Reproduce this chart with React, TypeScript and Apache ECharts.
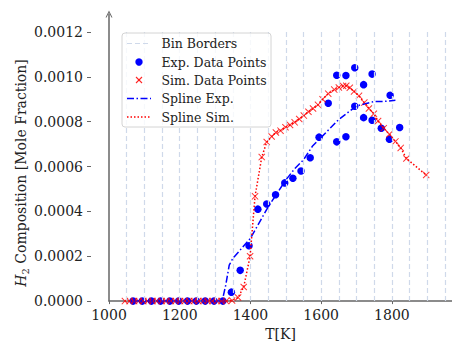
import React, { useEffect, useRef } from "react";
import * as echarts from "echarts";

// ---- data ----
const binBorders = [1050, 1100, 1150, 1200, 1250, 1300, 1350, 1400, 1450, 1500, 1550, 1600, 1650, 1700, 1750, 1800, 1850, 1900, 1950];
const binTop = 0.0012;

const expT = [1068, 1094, 1120, 1146, 1172, 1197, 1222, 1247, 1272, 1297, 1322, 1346, 1371, 1396, 1421, 1446, 1471, 1497, 1520, 1543, 1569, 1594, 1620, 1644, 1644, 1670, 1670, 1695, 1695, 1720, 1720, 1744, 1744, 1770, 1795, 1793, 1822];
const expV = [0, 0, 0, 0, 0, 0, 0, 0, 0, 0, 0, 0.00004, 0.000137, 0.000247, 0.00041, 0.000433, 0.000474, 0.000527, 0.000548, 0.00058, 0.000639, 0.000731, 0.000882, 0.001007, 0.00071, 0.001006, 0.000733, 0.00104, 0.000869, 0.000965, 0.000818, 0.001012, 0.000806, 0.000771, 0.000918, 0.000722, 0.000774];

const simT = [1045, 1058, 1071, 1084, 1097, 1110, 1123, 1136, 1149, 1162, 1175, 1188, 1201, 1214, 1227, 1240, 1253, 1266, 1279, 1292, 1305, 1318, 1331, 1348, 1365, 1381, 1399, 1413, 1432, 1446, 1460, 1472, 1485, 1499, 1512, 1525, 1538, 1551, 1564, 1577, 1591, 1604, 1620, 1637, 1650, 1662, 1671, 1681, 1693, 1707, 1722, 1735, 1749, 1761, 1777, 1793, 1810, 1825, 1841, 1897];
const simV = [0, 0, 0, 0, 0, 0, 0, 0, 0, 0, 0, 0, 0, 0, 0, 0, 0, 0, 0, 0, 0, 0, 0, 0.000003, 0.000016, 0.000063, 0.0002, 0.000467, 0.000642, 0.000709, 0.000734, 0.000752, 0.00076, 0.000775, 0.000785, 0.000797, 0.000812, 0.000827, 0.000844, 0.000859, 0.000875, 0.0009, 0.000925, 0.000943, 0.000952, 0.000959, 0.00096, 0.000951, 0.000935, 0.000915, 0.000885, 0.000859, 0.000835, 0.000803, 0.000771, 0.000744, 0.000712, 0.000683, 0.000636, 0.000562];

const splineExpT = [1068, 1320, 1330, 1340, 1350, 1375, 1400, 1425, 1450, 1475, 1500, 1525, 1550, 1575, 1600, 1625, 1650, 1675, 1700, 1725, 1750, 1775, 1810];
const splineExpV = [0, 0, 0.00007, 0.00016, 0.00019, 0.000235, 0.00028, 0.00035, 0.00042, 0.00048, 0.00054, 0.00059, 0.00063, 0.00069, 0.00073, 0.00077, 0.00081, 0.00084, 0.00087, 0.00088, 0.00089, 0.00089, 0.000895];

const xTicks = [1000, 1200, 1400, 1600, 1800];
const yTicks = [0, 0.0002, 0.0004, 0.0006, 0.0008, 0.001, 0.0012];

const legendLabels = ["Bin Borders", "Exp. Data Points", "Sim. Data Points", "Spline Exp.", "Spline Sim."];

const BLUE = "#0000ff";
const RED = "#ff0000";
const BIN = "#cfd9ea";
const AXIS = "#666666";
const FONT = "DejaVu Serif";
const XPATH = "path://M0,1 L1,0 L5,4 L9,0 L10,1 L6,5 L10,9 L9,10 L5,6 L1,10 L0,9 L4,5 Z";
const CHEVRON = "path://M0,6 L3,0 L6,6 L5.1,6 L3,1.8 L0.9,6 Z";

const zip = (a: number[], b: number[]) => a.map((v, i) => [v, b[i]]);

export default function App() {
  const ref = useRef<HTMLDivElement>(null);
  useEffect(() => {
    document.body.style.margin = "0";
    if (!ref.current) return;
    const chart = echarts.init(ref.current, null, { renderer: "svg" });
    const rowY = [43.5, 62, 80, 98.5, 117];
    const option: any = {
      animation: false,
      backgroundColor: "#ffffff",
      grid: { left: 109, right: 0, top: 14, bottom: 40.5, containLabel: false },
      xAxis: {
        type: "value",
        min: 1000,
        max: 1970,
        axisLine: { show: true, onZero: false, lineStyle: { color: AXIS, width: 1.5 } },
        axisTick: { show: true, length: 3, customValues: xTicks, lineStyle: { color: AXIS } },
        axisLabel: {
          customValues: xTicks,
          fontFamily: FONT,
          fontSize: 14,
          color: "#222",
          margin: 7,
          formatter: (v: number) => String(v),
        },
        splitLine: { show: false },
        name: "T[K]",
        nameLocation: "middle",
        nameGap: 25,
        nameTextStyle: { fontFamily: FONT, fontSize: 14, color: "#222" },
      },
      yAxis: [
        {
          type: "value",
          min: 0,
          max: 0.00128,
          position: "left",
          offset: 18,
          axisLine: { show: false },
          axisTick: { show: true, length: 4, customValues: yTicks, lineStyle: { color: AXIS } },
          axisLabel: {
            customValues: yTicks,
            fontFamily: FONT,
            fontSize: 14,
            color: "#222",
            margin: 8,
            formatter: (v: number) => v.toFixed(4),
          },
          splitLine: { show: false },
        },
        {
          type: "value",
          min: 0,
          max: 0.00128,
          position: "left",
          offset: 0,
          axisLine: {
            show: true,
            onZero: false,
            symbol: ["none", CHEVRON],
            symbolSize: [7, 7],
            lineStyle: { color: AXIS, width: 1.5 },
          },
          axisTick: { show: false },
          axisLabel: { show: false },
          splitLine: { show: false },
        },
      ],
      series: [
        {
          name: "Bin Borders",
          type: "line",
          data: [],
          silent: true,
          markLine: {
            silent: true,
            symbol: ["none", "none"],
            label: { show: false },
            lineStyle: { color: BIN, width: 1.2, type: [5, 3] },
            data: binBorders.map((b) => [{ coord: [b, 0] }, { coord: [b, binTop] }]),
          },
          z: 1,
        },
        {
          name: "Exp. Data Points",
          type: "scatter",
          data: zip(expT, expV),
          symbol: "circle",
          symbolSize: 7.5,
          itemStyle: { color: BLUE, opacity: 1 },
          z: 3,
        },
        {
          name: "Sim. Data Points",
          type: "scatter",
          data: zip(simT, simV),
          symbol: XPATH,
          symbolSize: 7,
          itemStyle: { color: RED, opacity: 0.8 },
          z: 4,
        },
        {
          name: "Spline Exp.",
          type: "line",
          data: zip(splineExpT, splineExpV),
          showSymbol: false,
          symbol: "none",
          lineStyle: { color: BLUE, width: 1.5, type: [7, 2.5, 1.5, 2.5] },
          z: 5,
        },
        {
          name: "Spline Sim.",
          type: "line",
          data: zip(simT, simV),
          showSymbol: false,
          symbol: "none",
          lineStyle: { color: RED, width: 1.5, type: [1.5, 2] },
          z: 5,
        },
      ],
      graphic: [
        {
          type: "text",
          x: 21,
          y: 173,
          rotation: Math.PI / 2,
          style: {
            text: "{h|H}{s|2}{t| Composition [Mole Fraction]}",
            align: "center",
            verticalAlign: "middle",
            rich: {
              h: { fontFamily: FONT, fontSize: 14, fontStyle: "italic", fill: "#222", lineHeight: 18 },
              s: { fontFamily: FONT, fontSize: 10, fill: "#222", lineHeight: 10, verticalAlign: "bottom" },
              t: { fontFamily: FONT, fontSize: 14, fill: "#222", lineHeight: 18 },
            },
          },
          z: 10,
        },
        {
          type: "rect",
          shape: { x: 122, y: 33, width: 149, height: 94, r: 3 },
          style: { fill: "rgba(255,255,255,0.8)", stroke: "#d4d4d4", lineWidth: 1 },
          z: 20,
        },
        {
          type: "line",
          shape: { x1: 127, y1: rowY[0], x2: 150, y2: rowY[0] },
          style: { stroke: BIN, lineWidth: 1.2, lineDash: [5, 3] },
          z: 21,
        },
        {
          type: "circle",
          shape: { cx: 139, cy: rowY[1], r: 3.7 },
          style: { fill: BLUE },
          z: 21,
        },
        {
          type: "line",
          shape: { x1: 136, y1: rowY[2] - 3, x2: 142, y2: rowY[2] + 3 },
          style: { stroke: RED, lineWidth: 1.1, opacity: 0.85 },
          z: 21,
        },
        {
          type: "line",
          shape: { x1: 136, y1: rowY[2] + 3, x2: 142, y2: rowY[2] - 3 },
          style: { stroke: RED, lineWidth: 1.1, opacity: 0.85 },
          z: 21,
        },
        {
          type: "line",
          shape: { x1: 127, y1: rowY[3], x2: 151, y2: rowY[3] },
          style: { stroke: BLUE, lineWidth: 1.5, lineDash: [7, 2.5, 1.5, 2.5] },
          z: 21,
        },
        {
          type: "line",
          shape: { x1: 127, y1: rowY[4], x2: 150, y2: rowY[4] },
          style: { stroke: RED, lineWidth: 1.5, lineDash: [1.5, 2] },
          z: 21,
        },
        ...legendLabels.map((t, i) => ({
          type: "text",
          x: 161.5,
          y: rowY[i],
          style: {
            text: t,
            fontFamily: FONT,
            fontSize: 12.5,
            fill: "#222",
            align: "left",
            verticalAlign: "middle",
          },
          z: 21,
        })),
      ],
    };
    chart.setOption(option);
    return () => chart.dispose();
  }, []);
  return <div ref={ref} style={{ width: 452, height: 346 }} />;
}
